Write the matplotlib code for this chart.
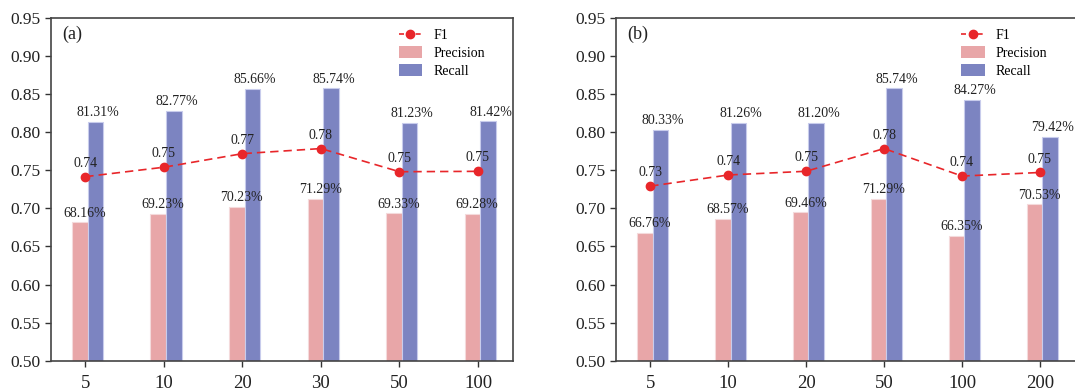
import numpy as np
import matplotlib
matplotlib.use("Agg")
import matplotlib.pyplot as plt
from matplotlib.lines import Line2D
from matplotlib.patches import Patch

plt.rcParams['font.family'] = ['Liberation Serif', 'DejaVu Serif']

# panel (a)
labels_a = ["5", "10", "20", "30", "50", "100"]
prec_a = [0.6816, 0.6923, 0.7023, 0.7129, 0.6933, 0.6928]
rec_a = [0.8131, 0.8277, 0.8566, 0.8574, 0.8123, 0.8142]
f1_a = [0.7416, 0.7540, 0.7718, 0.7785, 0.7481, 0.7486]

# panel (b)
labels_b = ["5", "10", "20", "50", "100", "200"]
prec_b = [0.6676, 0.6857, 0.6946, 0.7129, 0.6635, 0.7053]
rec_b = [0.8033, 0.8126, 0.8120, 0.8574, 0.8427, 0.7942]
f1_b = [0.7292, 0.7438, 0.7487, 0.7785, 0.7424, 0.7471]

c_prec = "#E8A6A8"
c_rec = "#7C84C1"
c_f1 = "#E8262A"

fig = plt.figure(figsize=(10.75, 3.92), dpi=100)
ax_a = fig.add_axes([0.0472, 0.0798, 0.4303, 0.8745])
# panel b runs to the right edge of the picture (its right frame is cut off)
ax_b = fig.add_axes([0.5730, 0.0798, 0.4270, 0.8745])


def draw(ax, labels, prec, rec, f1, tag):
    x = np.arange(len(labels))
    w = 0.2
    ax.bar(x - 0.07, prec, w, color=c_prec, edgecolor="#F4DADB", linewidth=0.8, zorder=2)
    ax.bar(x + 0.13, rec, w, color=c_rec, edgecolor="#C8CCEC", linewidth=0.8, zorder=2)
    ax.plot(x, f1, color=c_f1, linestyle=(0, (5, 3)), linewidth=1.2,
            marker="o", markersize=6, zorder=4)

    for i in range(len(x)):
        ax.annotate(f"{prec[i]*100:.2f}%", (x[i] - 0.01, prec[i]), xytext=(0, 2),
                    textcoords="offset points", ha="center", va="bottom",
                    fontsize=10, color="#222222", zorder=5)
        ax.annotate(f"{rec[i]*100:.2f}%", (x[i] + 0.16, rec[i]), xytext=(0, 2),
                    textcoords="offset points", ha="center", va="bottom",
                    fontsize=10, color="#222222", zorder=5)
        ax.annotate(f"{f1[i]:.2f}", (x[i], f1[i]), xytext=(0, 5),
                    textcoords="offset points", ha="center", va="bottom",
                    fontsize=10, color="#222222", zorder=5)

    ax.set_xlim(-0.44, 5.45)
    ax.set_ylim(0.50, 0.95)
    ax.set_yticks(np.arange(0.50, 0.951, 0.05))
    ax.set_yticklabels([f"{v:.2f}" for v in np.arange(0.50, 0.951, 0.05)])
    ax.set_xticks(x)
    ax.set_xticklabels(labels)
    ax.tick_params(direction="out", length=4, width=1.0, labelsize=12.5,
                   colors="#333333", labelcolor="#222222")
    ax.tick_params(axis="x", pad=6, labelsize=13.5)
    for s in ax.spines.values():
        s.set_color("#444444")
        s.set_linewidth(1.2)

    ax.text(0.025, 0.978, tag, transform=ax.transAxes, fontsize=13,
            ha="left", va="top", color="#222222")

    handles = [
        Line2D([0], [0], color=c_f1, linestyle=(0, (3, 2)), linewidth=1.2,
               marker="o", markersize=6),
        Patch(facecolor=c_prec, edgecolor="none"),
        Patch(facecolor=c_rec, edgecolor="none"),
    ]
    ax.legend(handles, ["F1", "Precision", "Recall"], loc="upper left",
              bbox_to_anchor=(0.725, 1.005), frameon=False, fontsize=10,
              handlelength=1.7, handleheight=0.9, handletextpad=0.8,
              labelspacing=0.3, borderaxespad=0.5)


draw(ax_a, labels_a, prec_a, rec_a, f1_a, "(a)")
draw(ax_b, labels_b, prec_b, rec_b, f1_b, "(b)")
ax_b.spines["right"].set_visible(False)

fig.savefig("out.png", dpi=100)
